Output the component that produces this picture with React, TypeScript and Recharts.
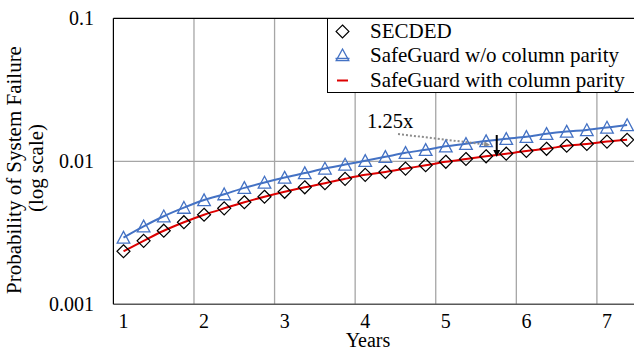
import React from 'react';
import {
  ComposedChart,
  Line,
  XAxis,
  YAxis,
  ReferenceLine,
} from 'recharts';

// years in quarter steps
const years = [
  1, 1.25, 1.5, 1.75, 2, 2.25, 2.5, 2.75, 3, 3.25, 3.5, 3.75, 4, 4.25, 4.5,
  4.75, 5, 5.25, 5.5, 5.75, 6, 6.25, 6.5, 6.75, 7, 7.25,
];

const secded = [
  0.00235, 0.00278, 0.00327, 0.00375, 0.00423, 0.00469, 0.00517, 0.00565,
  0.00612, 0.00658, 0.00702, 0.00754, 0.00804, 0.00842, 0.00889, 0.00938,
  0.00992, 0.01038, 0.01084, 0.0113, 0.0118, 0.01223, 0.01284, 0.01321,
  0.01373, 0.01413,
];

const noParity = [
  0.00293, 0.00351, 0.00413, 0.00474, 0.00536, 0.00589, 0.00652, 0.00711,
  0.0077, 0.00827, 0.00891, 0.0095, 0.01008, 0.01075, 0.01147, 0.01203,
  0.01273, 0.01326, 0.01385, 0.01437, 0.01484, 0.01557, 0.01614, 0.01656,
  0.01724, 0.01794,
];

// red curve sits right on the SECDED markers
const withParity = [
  0.00235, 0.00278, 0.00327, 0.00375, 0.00423, 0.00469, 0.00517, 0.00565,
  0.00612, 0.00658, 0.00702, 0.00754, 0.00804, 0.00842, 0.00889, 0.00938,
  0.00992, 0.01038, 0.01084, 0.0113, 0.0118, 0.01223, 0.01284, 0.01321,
  0.01373, 0.01413,
];

const xTicks = [1, 2, 3, 4, 5, 6, 7];
const yTicks = [0.001, 0.01, 0.1];

const legendItems = ['SECDED', 'SafeGuard w/o column parity', 'SafeGuard with column parity'];

// annotation: dotted pointer from the "1.25x" label, and the gap arrow
const pointerSeg = [
  { x: 4.407, y: 0.01552 },
  { x: 5.549, y: 0.013 },
];
const gapSeg = [
  { x: 5.632, y: 0.01527 },
  { x: 5.632, y: 0.01072 },
];

const BLUE = '#4472C4';
const RED = '#DD0000';
const FONT = '"Liberation Serif", "Times New Roman", serif';

const step = years[1] - years[0];
const gridYears = xTicks.slice(1).map((t) => t - step / 2);

const rows = years.map((year, i) => ({
  year,
  secded: secded[i],
  noParity: noParity[i],
  withParity: withParity[i],
}));

const Diamond = (props: any) => {
  const { cx, cy, index } = props;
  if (cx == null || cy == null) return <g key={`d${index}`} />;
  const r = 6.5;
  return (
    <polygon
      key={`d${index}`}
      points={`${cx},${cy - r} ${cx + r},${cy} ${cx},${cy + r} ${cx - r},${cy}`}
      fill="none"
      stroke="#000"
      strokeWidth={1.2}
    />
  );
};

const Triangle = (props: any) => {
  const { cx, cy, index } = props;
  if (cx == null || cy == null) return <g key={`t${index}`} />;
  return (
    <polygon
      key={`t${index}`}
      points={`${cx},${cy - 6.2} ${cx + 6.3},${cy + 5.6} ${cx - 6.3},${cy + 5.6}`}
      fill="none"
      stroke={BLUE}
      strokeWidth={1.3}
    />
  );
};

const arrowHead = (x1: number, y1: number, x2: number, y2: number, len: number, half: number) => {
  const a = Math.atan2(y2 - y1, x2 - x1);
  const bx = x2 - len * Math.cos(a);
  const by = y2 - len * Math.sin(a);
  const px = -Math.sin(a) * half;
  const py = Math.cos(a) * half;
  return `${x2},${y2} ${bx + px},${by + py} ${bx - px},${by - py}`;
};

const PointerShape = (props: any) => {
  const { x1, y1, x2, y2 } = props;
  return (
    <g>
      <text x={x1 - 31} y={y1 - 6} fontSize={20.5} fontFamily={FONT} fill="#000">
        1.25x
      </text>
      <line x1={x1} y1={y1} x2={x2 - 4} y2={y2 - 0.5} stroke="#8c8c8c" strokeWidth={2} strokeDasharray="2 2" />
      <polygon points={arrowHead(x1, y1, x2, y2, 6, 3)} fill="#8c8c8c" />
    </g>
  );
};

const GapShape = (props: any) => {
  const { x1, y1, x2, y2 } = props;
  return (
    <g>
      <line x1={x1} y1={y1} x2={x2} y2={y2 - 5} stroke="#000" strokeWidth={2} />
      <polygon points={arrowHead(x1, y1, x2, y2, 7, 3.5)} fill="#000" />
    </g>
  );
};

const YTitle = () => {
  const cy = 170;
  return (
    <g fontFamily={FONT} fontSize={21} fill="#000">
      <text x={20.5} y={cy} textAnchor="middle" transform={`rotate(-90, 20.5, ${cy})`}>
        Probability of System Failure
      </text>
      <text x={43} y={cy - 2} textAnchor="middle" transform={`rotate(-90, 43, ${cy - 2})`}>
        (log scale)
      </text>
    </g>
  );
};

const XTitle = () => (
  <text x={368} y={346.5} textAnchor="middle" fontFamily={FONT} fontSize={20} fill="#000">
    Years
  </text>
);

const LegendBox = () => (
  <div
    style={{
      position: 'absolute',
      left: 326.5,
      top: 18,
      width: 320,
      height: 75,
      border: '1px solid #000',
      boxSizing: 'border-box',
      background: '#fff',
      fontFamily: FONT,
      fontSize: 21,
      color: '#000',
    }}
  >
    {legendItems.map((name, i) => (
      <div
        key={name}
        style={{ position: 'absolute', left: 0, top: -0.5 + i * 24.6, height: 24.5, width: 318 }}
      >
        <svg width={30} height={25} style={{ position: 'absolute', left: 0, top: 0 }}>
          {i === 0 && (
            <polygon points="14.5,6 20.9,12.4 14.5,18.8 8.1,12.4" fill="none" stroke="#000" strokeWidth={1.2} />
          )}
          {i === 1 && (
            <g>
              <polygon points="14.5,6 20.8,17.6 8.2,17.6" fill="none" stroke={BLUE} strokeWidth={1.3} />
              <line x1={7.5} y1={15.5} x2={21.5} y2={15.5} stroke={BLUE} strokeWidth={1.5} />
            </g>
          )}
          {i === 2 && <line x1={9} y1={12.5} x2={20} y2={12.5} stroke={RED} strokeWidth={2} />}
        </svg>
        <span
          style={{
            position: 'absolute',
            left: 42.5,
            top: 0,
            lineHeight: '24.5px',
            whiteSpace: 'nowrap',
          }}
        >
          {name}
        </span>
      </div>
    ))}
  </div>
);

export default function App() {
  return (
    <div
      style={{
        position: 'absolute',
        left: 0,
        top: 0,
        width: 634,
        height: 349,
        overflow: 'hidden',
        background: '#fff',
      }}
    >
      <ComposedChart
        width={660}
        height={349}
        data={rows}
        margin={{ top: 18.3, right: 22.8, bottom: 14.7, left: 53 }}
        style={{ fontFamily: FONT }}
      >
        <XAxis
          dataKey="year"
          type="number"
          domain={[years[0] - step / 2, years[years.length - 1] + step / 2]}
          ticks={xTicks}
          interval={0}
          allowDataOverflow
          height={30}
          tickSize={0}
          tickMargin={9.5}
          tickLine={false}
          axisLine={{ stroke: '#595959', strokeWidth: 1.5 }}
          tick={{ fill: '#000', fontSize: 20, fontFamily: FONT }}
          label={{ content: <XTitle /> }}
        />
        <YAxis
          type="number"
          scale="log"
          domain={[0.001, 0.1]}
          ticks={yTicks}
          interval={0}
          allowDataOverflow
          width={60.4}
          tickSize={0}
          tickMargin={19.4}
          tickLine={false}
          axisLine={{ stroke: '#000', strokeWidth: 1.2 }}
          tick={{ fill: '#000', fontSize: 20, fontFamily: FONT }}
          tickFormatter={(v: number) => String(v)}
          label={{ content: <YTitle /> }}
        />

        {gridYears.map((g) => (
          <ReferenceLine key={`g${g}`} x={g} stroke="#a6a6a6" strokeWidth={1.3} />
        ))}
        <ReferenceLine y={0.01} stroke="#a6a6a6" strokeWidth={1.3} />
        <ReferenceLine y={0.1} stroke="#000" strokeWidth={1.2} />

        <Line
          dataKey="secded"
          stroke="none"
          dot={Diamond}
          activeDot={false}
          isAnimationActive={false}
        />
        <Line
          dataKey="noParity"
          type="monotone"
          stroke={BLUE}
          strokeWidth={2}
          dot={Triangle}
          activeDot={false}
          isAnimationActive={false}
        />
        <Line
          dataKey="withParity"
          type="monotone"
          stroke={RED}
          strokeWidth={2}
          dot={false}
          activeDot={false}
          isAnimationActive={false}
        />

        <ReferenceLine segment={pointerSeg} shape={PointerShape} />
        <ReferenceLine segment={gapSeg} shape={GapShape} />
      </ComposedChart>
      <LegendBox />
    </div>
  );
}
